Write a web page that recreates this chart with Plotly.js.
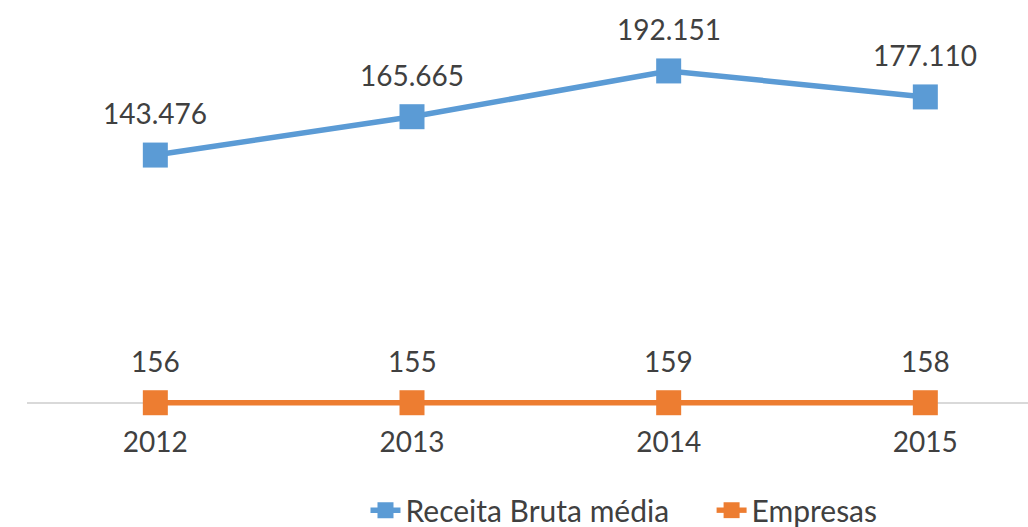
<!DOCTYPE html>
<html>
<head>
<meta charset="utf-8">
<script src="https://cdn.plot.ly/plotly-3.0.1.min.js"></script>
<style>html,body{margin:0;padding:0;background:#fff;}#chart{width:1028px;height:527px;}</style>
</head>
<body>
<div id="chart"></div>
<script>
const years = ['2012', '2013', '2014', '2015'];
const receita = [143476, 165665, 192151, 177110];
const empresas = [156, 155, 159, 158];
const seriesNames = ['Receita Bruta média', 'Empresas'];
const colors = ['#5B9BD5', '#ED7D31'];

function fmt(v) {
  return String(v).replace(/\B(?=(\d{3})+(?!\d))/g, '.');
}

const font = {family: 'Lato, sans-serif', size: 28, color: '#404040'};

const traces = [receita, empresas].map((vals, i) => ({
  type: 'scatter',
  mode: 'lines+markers',
  x: years,
  y: vals,
  name: seriesNames[i] + (i === 0 ? '\u2003\u2002' : ''),
  line: {color: colors[i], width: 5.5},
  marker: {symbol: 'square', size: 25, color: colors[i]},
  cliponaxis: false
}));

const annotations = [];
[receita, empresas].forEach(vals => {
  vals.forEach((v, j) => {
    annotations.push({
      x: j, y: v, xref: 'x', yref: 'y',
      text: fmt(v), showarrow: false,
      xanchor: 'center', yanchor: 'middle', yshift: 42,
      font: {family: 'Lato, sans-serif', size: 28, color: '#404040'}
    });
  });
});

const layout = {
  width: 1028, height: 527,
  margin: {l: 27, r: 0, t: 0, b: 115, autoexpand: false},
  paper_bgcolor: '#ffffff',
  plot_bgcolor: '#ffffff',
  showlegend: true,
  legend: {
    orientation: 'h', xref: 'container', yref: 'container',
    x: 0.607, xanchor: 'center', y: 0.032, yanchor: 'middle',
    font: {family: 'Lato, sans-serif', size: 30, color: '#404040'}, tracegroupgap: 0
  },
  xaxis: {
    type: 'category',
    range: [-0.5, 3.4],
    showgrid: false, zeroline: false,
    showline: false,
    ticks: '', tickfont: font, ticklabelstandoff: 11,
    fixedrange: true
  },
  yaxis: {
    range: [-5207, 233200],
    showticklabels: false, showline: false, ticks: '',
    showgrid: false,
    zeroline: true, zerolinecolor: '#d9d9d9', zerolinewidth: 1.5,
    layer: 'below traces',
    fixedrange: true
  },
  annotations: annotations
};

Plotly.newPlot('chart', traces, layout, {displayModeBar: false});
</script>
</body>
</html>
